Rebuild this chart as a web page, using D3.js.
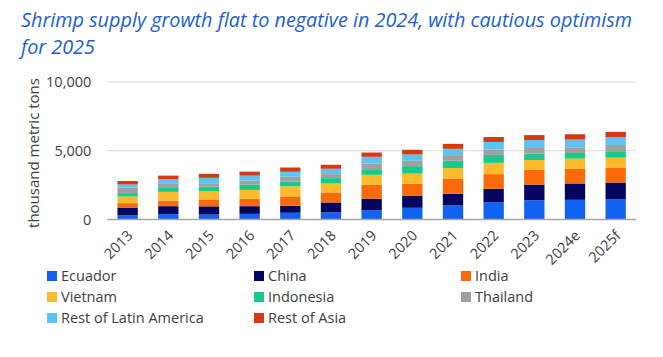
<!DOCTYPE html>
<html>
<head>
<meta charset="utf-8">
<script src="https://cdn.jsdelivr.net/npm/d3@7"></script>
<style>
  html, body { margin: 0; padding: 0; background: #ffffff; }
  svg { display: block; }
</style>
</head>
<body>
<svg id="chart" width="663" height="357"></svg>
<script>
// ---- data (thousand metric tons) ----
const years = ["2013","2014","2015","2016","2017","2018","2019","2020","2021","2022","2023","2024e","2025f"];
const ecuador    = [290, 390, 360, 410, 490, 510, 680, 850, 1020, 1260, 1400, 1430, 1480];
const china      = [580, 580, 600, 560, 510, 730, 840, 890, 850, 970, 1140, 1190, 1210];
const india      = [320, 410, 460, 530, 680, 730, 1000, 870, 1090, 1070, 1060, 1060, 1060];
const vietnam    = [480, 630, 630, 650, 730, 650, 730, 730, 780, 820, 730, 750, 750];
const indonesia  = [250, 340, 340, 390, 360, 390, 410, 540, 530, 580, 460, 410, 460];
const thailand   = [390, 240, 250, 290, 340, 290, 410, 390, 410, 390, 410, 410, 460];
const restLatAm  = [240, 340, 390, 360, 360, 390, 490, 460, 460, 550, 580, 560, 560];
const restAsia   = [250, 260, 290, 290, 310, 290, 310, 340, 360, 360, 360, 390, 390];
const seriesNames = ["Ecuador","China","India","Vietnam","Indonesia","Thailand","Rest of Latin America","Rest of Asia"];
const seriesValues = [ecuador, china, india, vietnam, indonesia, thailand, restLatAm, restAsia];
const yTicks = [0, 5000, 10000];
const titleLines = ["Shrimp supply growth flat to negative in 2024, with cautious optimism", "for 2025"];
const yLabel = "thousand metric tons";

// ---- styles ----
const colors = ["#1262f2","#03055e","#fb6a0a","#fbbb2c","#19c98a","#a0a0a0","#5cc4f2","#d5390f"];
const FONT = "'Open Sans', 'Noto Sans', sans-serif";

const svg = d3.select("#chart");

// table for stacking
const table = years.map((y, i) => {
  const row = { year: y };
  seriesNames.forEach((s, k) => row[s] = seriesValues[k][i]);
  return row;
});
const stacked = d3.stack().keys(seriesNames)(table);

const x = d3.scaleBand().domain(years).range([107.3, 636]).paddingInner(0.5).paddingOuter(0.25);
const y = d3.scaleLinear().domain([0, 10000]).range([219.5, 82]);

// title
const title = svg.append("g").attr("font-family", FONT).attr("font-style", "italic")
  .attr("fill", "#2360cc").attr("font-size", 20.5);
const t1 = title.append("text").attr("x", 21).attr("y", 27).text(titleLines[0]);
const natural = t1.node().getComputedTextLength();
const targetW = 611;
const ratio = targetW / natural;
t1.attr("textLength", targetW).attr("lengthAdjust", "spacingAndGlyphs");
const t2 = title.append("text").attr("x", 21).attr("y", 54).text(titleLines[1]);
const n2 = t2.node().getComputedTextLength();
t2.attr("textLength", n2 * ratio).attr("lengthAdjust", "spacingAndGlyphs");

// gridlines
svg.append("g").selectAll("line").data(yTicks.filter(d => d > 0)).join("line")
  .attr("x1", 107.3).attr("x2", 636)
  .attr("y1", d => y(d)).attr("y2", d => y(d))
  .attr("stroke", "#d9d9d9").attr("stroke-width", 1);

// y axis labels
const yAxis = d3.axisLeft(y).tickValues(yTicks).tickFormat(d3.format(",")).tickSize(0).tickPadding(16);
const yg = svg.append("g").attr("transform", "translate(107.3,0)").call(yAxis);
yg.select(".domain").remove();
yg.selectAll("text").attr("font-family", FONT).attr("font-size", 14.5).attr("fill", "#404040");

// bars
svg.append("g").selectAll("g").data(stacked).join("g")
  .attr("fill", (d, i) => colors[i])
  .selectAll("rect").data(d => d).join("rect")
  .attr("x", d => x(d.data.year))
  .attr("width", x.bandwidth())
  .attr("y", d => y(d[1]))
  .attr("height", d => y(d[0]) - y(d[1]));

// baseline
svg.append("line").attr("x1", 107.3).attr("x2", 636)
  .attr("y1", y(0)).attr("y2", y(0))
  .attr("stroke", "#a6a6a6").attr("stroke-width", 1.5);

// x axis labels
const xAxis = d3.axisBottom(x).tickSize(0).tickPadding(0);
const xg = svg.append("g").attr("transform", `translate(0,${y(0)})`).call(xAxis);
xg.select(".domain").remove();
xg.selectAll("text")
  .attr("font-family", FONT).attr("font-size", 14.5).attr("fill", "#404040")
  .attr("text-anchor", "end")
  .attr("y", 0).attr("dy", 0)
  .attr("transform", "translate(6,17) rotate(-45)");

// y axis title
svg.append("text")
  .attr("transform", "translate(39,153) rotate(-90)")
  .attr("text-anchor", "middle")
  .attr("font-family", FONT).attr("font-size", 15).attr("fill", "#404040")
  .text(yLabel);

// legend
const colX = [47, 254, 461];
const legend = svg.append("g").selectAll("g").data(seriesNames).join("g")
  .attr("transform", (d, i) => `translate(${colX[i % 3]},${276 + Math.floor(i / 3) * 21})`);
legend.append("rect").attr("x", 0).attr("y", -5).attr("width", 10).attr("height", 10)
  .attr("fill", (d, i) => colors[i]);
legend.append("text").attr("x", 14).attr("y", 0).attr("dy", "0.35em")
  .attr("font-family", FONT).attr("font-size", 14.5).attr("fill", "#404040")
  .text(d => d);
</script>
</body>
</html>
